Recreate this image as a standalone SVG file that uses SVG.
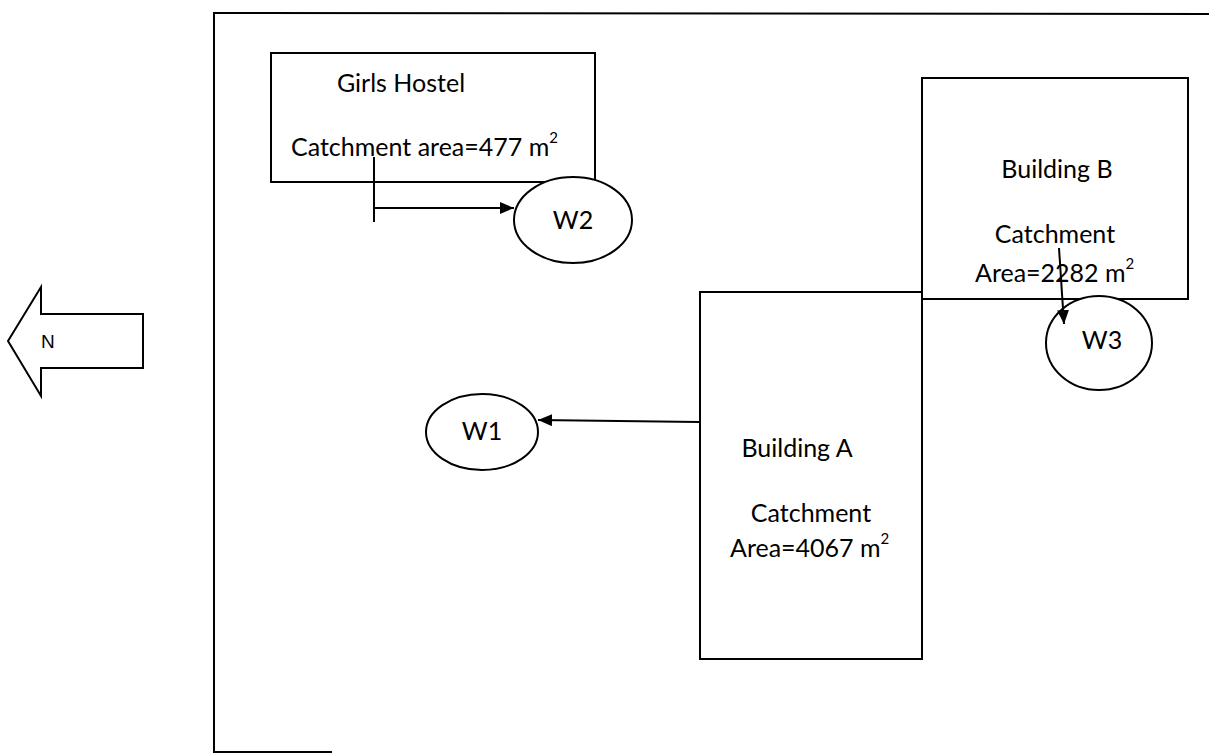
<svg xmlns="http://www.w3.org/2000/svg" width="1209" height="753" viewBox="0 0 1209 753">
<defs>
<style>
.ln{fill:none;stroke:#000;stroke-width:2}
.sh{fill:#fff;stroke:#000;stroke-width:2}
.t{font-family:Lato,"Open Sans","Liberation Sans",sans-serif;font-size:25px;fill:#000}
.sup{font-size:15px}
</style>
<marker id="ah" viewBox="0 0 14 12" refX="14" refY="6" markerWidth="14" markerHeight="12" markerUnits="userSpaceOnUse" orient="auto">
<path d="M0,0 L14,6 L0,12 Z" fill="#000"/>
</marker>
</defs>
<rect width="1209" height="753" fill="#fff"/>
<g id="frame">
<path class="ln" d="M1209,14 L214,13 L214,752 L332,752"/>
</g>
<g id="north">
<polygon class="sh" points="8,341 41,287 41,314 143,314 143,368 41,368 41,396"/>
<text x="41" y="348" style="font-family:'Liberation Sans',Arial,sans-serif;font-size:19px">N</text>
</g>
<g id="girls-hostel">
<rect class="sh" x="271" y="53" width="324" height="129"/>
<text class="t" x="401" y="92" text-anchor="middle">Girls Hostel</text>
<text class="t" x="291" y="156">Catchment area=477 m<tspan class="sup" dy="-13">2</tspan></text>
</g>
<g id="building-b">
<rect class="sh" x="922" y="78" width="266" height="221"/>
<text class="t" x="1057" y="178" text-anchor="middle">Building B</text>
<text class="t" x="1055" y="243" text-anchor="middle">Catchment</text>
<text class="t" x="975" y="282">Area=2282 m<tspan class="sup" dy="-13">2</tspan></text>
</g>
<g id="building-a">
<rect class="sh" x="700" y="292" width="222" height="367"/>
<text class="t" x="797" y="457" text-anchor="middle">Building A</text>
<text class="t" x="811" y="522" text-anchor="middle">Catchment</text>
<text class="t" x="730" y="557">Area=4067 m<tspan class="sup" dy="-13">2</tspan></text>
</g>
<g id="w1">
<ellipse class="sh" cx="482" cy="432" rx="56" ry="38"/>
<text class="t" x="482" y="440" text-anchor="middle">W1</text>
</g>
<g id="w2">
<ellipse class="sh" cx="573" cy="220" rx="59" ry="43"/>
<text class="t" x="573" y="229" text-anchor="middle">W2</text>
</g>
<g id="w3">
<ellipse class="sh" cx="1099" cy="343" rx="53" ry="47"/>
<text class="t" x="1102" y="349" text-anchor="middle">W3</text>
</g>
<g id="connectors">
<path class="ln" d="M374,157 L374,222"/>
<path class="ln" d="M374,208 L514,208" marker-end="url(#ah)"/>
<path class="ln" d="M699,422 L538,420" marker-end="url(#ah)"/>
<path class="ln" d="M1059,248 L1064,324" marker-end="url(#ah)"/>
</g>
</svg>
